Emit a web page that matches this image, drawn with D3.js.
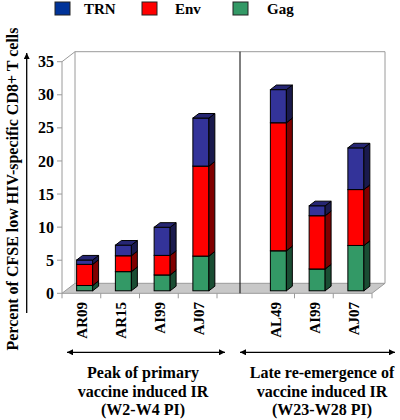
<!DOCTYPE html>
<html><head><meta charset="utf-8">
<script src="https://cdn.jsdelivr.net/npm/d3@7"></script>
<style>body{margin:0;background:#fff}svg{display:block}</style>
</head><body>
<script>
const categories = ["AR09","AR15","AI99","AJ07","","AL49","AI99","AJ07"];
const gag = [0.8, 2.9, 2.4, 5.25, null, 6.05, 3.3, 6.85];
const env = [3.2, 2.4, 2.95, 13.6, null, 19.35, 8.05, 8.45];
const trn = [0.65, 1.6, 4.25, 7.25, null, 5.0, 1.5, 6.3];
const yTicks = [0,5,10,15,20,25,30,35];
const seriesNames = ["TRN","Env","Gag"];
const seriesColors = {TRN:"#333399", Env:"#ff0000", Gag:"#339966"};
const sideColors = {TRN:"#1a1a4d", Env:"#800000", Gag:"#1a4d33"};
const topColors = {TRN:"#262673", Env:"#cc0000", Gag:"#2a7a52"};
const legendColors = {TRN:"#003399", Env:"#ff0000", Gag:"#339966"};
const groupLabels = [["Peak of primary","vaccine induced IR","(W2-W4 PI)"],["Late re-emergence of","vaccine induced IR","(W23-W28 PI)"]];

const FONT="'Liberation Serif', 'Times New Roman', Times, serif";
const W=400,H=420;
const svg=d3.select("body").append("svg").attr("width",W).attr("height",H)
  .attr("font-family",FONT).attr("font-weight","bold");
const DX=13, DY=-10;
const x=d3.scaleBand().domain(d3.range(categories.length)).range([62,372]);
const y=d3.scaleLinear().domain([0,35]).range([293.3,61.7]);
const wallCol="#9a9a9a";

// back wall
svg.append("path").attr("d",`M${62+DX},${y(0)+DY}V${y(35)+DY}H${372+DX}V${y(0)+DY}`)
  .attr("fill","none").attr("stroke",wallCol);
// left wall edge
svg.append("path").attr("d",`M62,${y(0)}V${y(35)}L${62+DX},${y(35)+DY}`).attr("fill","none").attr("stroke",wallCol);
// floor
svg.append("path").attr("d",`M62,${y(0)}H372L${372+DX},${y(0)+DY}H${62+DX}Z`).attr("fill","#c8c8c8").attr("stroke",wallCol);
// y ticks and labels
yTicks.forEach(t=>{
  svg.append("line").attr("x1",57).attr("x2",62).attr("y1",y(t)).attr("y2",y(t)).attr("stroke",wallCol);
  svg.append("text").attr("x",54).attr("y",y(t)).attr("dy","0.35em").attr("text-anchor","end").attr("font-size",16).text(t);
});
// category ticks
d3.range(categories.length+1).forEach(i=>{
  if(i===5) return;
  const xx = i<categories.length ? x(i) : 372;
  svg.append("line").attr("x1",xx).attr("x2",xx).attr("y1",y(0)).attr("y2",y(0)+5).attr("stroke",wallCol);
});
// divider
svg.append("line").attr("x1",240).attr("x2",240).attr("y1",y(35)+DY).attr("y2",y(0)).attr("stroke","#000");

// bars
const f0=0.25, fd=0.46, bw=16;
const bdx=DX*fd, bdy=DY*fd;
categories.forEach((c,i)=>{
  if(gag[i]==null) return;
  const cx=x(i)+x.bandwidth()/2+DX*f0;
  const x0=cx-bw/2, x1=cx+bw/2;
  const off=DY*f0;
  let base=0;
  [["Gag",gag[i]],["Env",env[i]],["TRN",trn[i]]].forEach(([s,v])=>{
    const yb=y(base)+off, yt=y(base+v)+off;
    svg.append("rect").attr("x",x0).attr("y",yt).attr("width",bw).attr("height",yb-yt)
      .attr("fill",seriesColors[s]).attr("stroke","#000").attr("stroke-width",1);
    svg.append("path").attr("d",`M${x1},${yb}V${yt}l${bdx},${bdy}V${yb+bdy}Z`)
      .attr("fill",sideColors[s]).attr("stroke","#000").attr("stroke-width",1).attr("stroke-linejoin","round");
    svg.append("path").attr("d",`M${x0},${yt}H${x1}l${bdx},${bdy}H${x0+bdx}Z`)
      .attr("fill",topColors[s]).attr("stroke","#000").attr("stroke-width",1).attr("stroke-linejoin","round");
    base+=v;
  });
});
// category labels
categories.forEach((c,i)=>{
  if(!c) return;
  const cx=x(i)+x.bandwidth()/2;
  svg.append("text").attr("transform",`translate(${cx+6},302) rotate(-90)`).attr("text-anchor","end")
    .attr("font-size",15).text(c);
});
// y axis title & arrow
svg.append("text").attr("transform",`translate(18,189) rotate(-90)`).attr("text-anchor","middle").attr("font-size",16)
  .text("Percent of CFSE low HIV-specific CD8+ T cells");
const defs=svg.append("defs");
defs.append("marker").attr("id","ah").attr("viewBox","0 0 10 10").attr("refX",10).attr("refY",5)
  .attr("markerWidth",10).attr("markerHeight",6).attr("markerUnits","userSpaceOnUse").attr("orient","auto-start-reverse")
  .append("path").attr("d","M0,0L10,5L0,10Z").attr("fill","#000");
svg.append("line").attr("x1",26.7).attr("x2",26.7).attr("y1",313).attr("y2",53).attr("stroke","#000").attr("stroke-width",1.3).attr("marker-end","url(#ah)");
// group arrows
[[67,225,143],[240,395,322]].forEach(([a,b,c],g)=>{
  svg.append("line").attr("x1",a).attr("x2",b).attr("y1",352.3).attr("y2",352.3).attr("stroke","#000").attr("stroke-width",1.3)
    .attr("marker-start","url(#ah)").attr("marker-end","url(#ah)");
  groupLabels[g].forEach((t,k)=>{
    svg.append("text").attr("x",c).attr("y",378+k*18.5).attr("text-anchor","middle").attr("font-size",16).text(t);
  });
});
// legend
[[55,84],[142,175],[233,267]].forEach(([sx,tx],k)=>{
  const s=seriesNames[k];
  svg.append("rect").attr("x",sx).attr("y",2).attr("width",15).attr("height",13).attr("fill",legendColors[s]).attr("stroke","#222");
  svg.append("text").attr("x",tx).attr("y",14).attr("font-size",15).text(s);
});
</script>
</body></html>
